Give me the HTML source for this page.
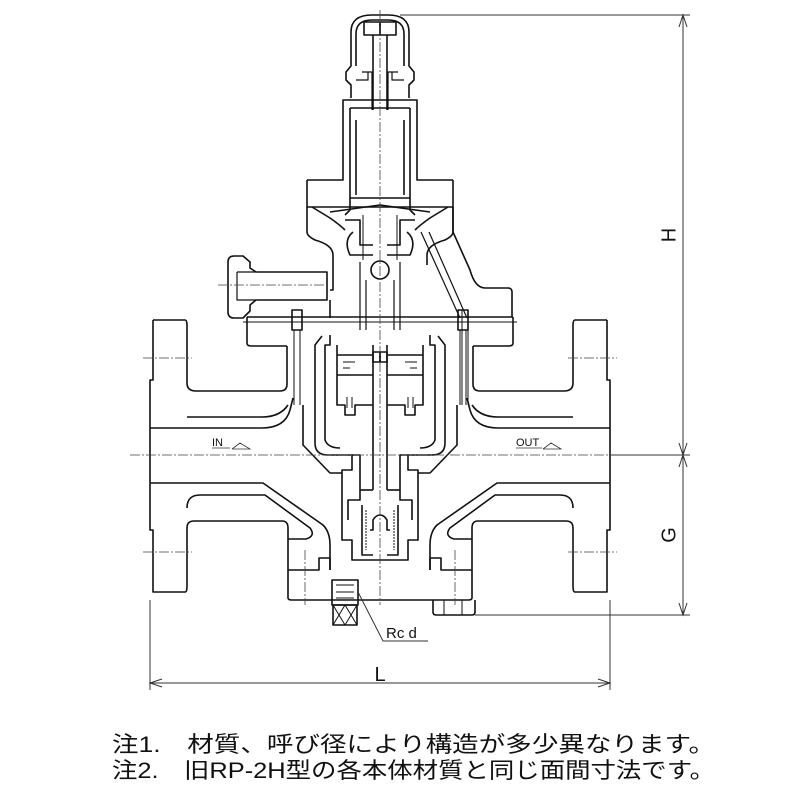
<!DOCTYPE html>
<html><head><meta charset="utf-8"><style>
html,body{margin:0;padding:0;background:#fff;}
svg{display:block;}
text{font-family:"Liberation Sans","Noto Sans CJK JP",sans-serif;fill:#111;}
</style></head><body>
<svg width="800" height="800" viewBox="0 0 800 800" xmlns="http://www.w3.org/2000/svg">
<defs>
<g id="half" fill="none" stroke="#111" stroke-width="1.6" stroke-linejoin="round">
  <path d="M153,320 H185 Q187,320 187,325 V383 Q187,391 196,391 H280 Q287,391 287,384 V346"/>
  <path d="M153,320 V380 H150 V530 H153 V592 H185 Q187,592 187,586 V528 Q187,521 194,521 H282 Q288,521 288,528 V540"/>
  <path d="M150,428 H262 Q285,428 290,410 L293,398"/>
  <path d="M187,417 H262 Q280,417 288,405"/>
  <path d="M303,405 V445 L330,473 H342"/>
  <path d="M150,483 H263 L323,525 Q330,532 330,545 V570"/>
  <path d="M187,508 Q187,495 200,495 H265 L310,528 Q316,536 306,539 H288"/>
  <path d="M247,317 V343 Q247,346 251,346 H287"/>
  <path d="M247,317 H380"/>
  <path d="M243,322 H380" stroke-width="1"/>
  <rect x="292" y="310" width="10" height="20"/>
  <path d="M294,330 V405 M300,330 V405" stroke-width="1"/>
  <path d="M322,336 L315,345 V443 Q315,455 328,455 H352 V470 H342 V540 H352 V560 H380"/>
  <path d="M330,335 V345 H325 V440 Q328,448 340,448"/>
  <path d="M352,455 H360 V500 H348 V520"/>
  <path d="M360,490 H373"/>
  <path d="M362,505 V555 H373"/>
  <path d="M366,510 V550" stroke-width="1" stroke-dasharray="2,1"/>
  <path d="M370,530 H373 V520 Q376,515 380,515"/>
  <path d="M337,345 V405 H345 V415 H355 V405 H373"/>
  <path d="M337,355 H373 M337,375 H373"/>
  <path d="M343,362 H355 M343,368 H350" stroke-width="1"/>
  <rect x="373" y="352" width="7" height="10"/>
  <path d="M347,397 V408 M352,397 V408" stroke-width="1"/>
  <path d="M288,540 V570 H319 V558 H330 V570 M288,570 V598 Q288,600 292,600 H380"/>
  <path d="M307,207 V232 Q307,236 315,240 Q333,245 333,255 V265"/>
  <path d="M307,180 V207 H380"/>
  <path d="M307,180 H343 V100 H380"/>
  <path d="M312,207 L330,218 Q340,225 345,230 M330,212 L380,205"/>
  <path d="M350,108 H380 M350,108 V198 H380 M356,120 V195" />
  <path d="M350,198 V210 L345,215" />
  <path d="M345,220 H360 V245 H373 M353,232 Q343,240 350,255 H373"/>
  <path d="M363,215 V260" stroke-width="1"/>
  <path d="M351,98 V85 L346,80 V72 L351,66 V32 Q351,15 372,15 H380"/>
  <path d="M356,66 V34 Q356,20 372,20 H380"/>
  <rect x="364" y="22" width="16" height="13"/>
  <path d="M362,72 H372 V110 M356,80 H368 V72" stroke-width="1.2"/>
  <path d="M373,35 V110" />
</g>
</defs>

<use href="#half"/>
<use href="#half" transform="translate(760,0) scale(-1,1)"/>

<g fill="none" stroke="#111" stroke-width="1.6" stroke-linejoin="round">
  <path d="M453,207 V232 L470,270 Q475,288 485,288 H508 Q512,288 512,292 V317"/>
  <path d="M421,232 L460,318 M429,232 L467,318" stroke-width="1.2"/>
  <path d="M333,265 V290 H330"/>
  <path d="M228,262 Q228,256 234,256 H243 L250,262 V268 L256,272 H327 V300 H256 L250,305 V311 L243,318 H234 Q228,318 228,312 Z"/>
  <path d="M237,272 H256 M237,272 V300 H256" stroke-width="1.2"/>
  <path d="M330,300 V318" />
  <circle cx="380" cy="270" r="9"/>
  <path d="M360,262 V330 M400,262 V330 M366,280 V330 M394,280 V330" stroke-width="1.2"/>
  <path d="M462,310 V405 M468,310 V405" stroke-width="1"/>
  <path d="M373,345 V490 M387,345 V490" />
  <rect x="332" y="580" width="26" height="25"/>
  <path d="M336,585 H354 M336,592 H354 M336,598 H354" stroke-width="1"/>
  <rect x="333" y="605" width="24" height="20"/>
  <path d="M333,605 L345,625 L357,605 M333,625 L345,605 L357,625" stroke-width="1"/>
  <path d="M433,600 V612 Q433,615 436,615 H472 Q475,615 475,612 V600"/>
  <path d="M444,600 V615 M462,600 V615" stroke-width="1"/>
</g>

<g stroke="#444" stroke-width="0.8" stroke-dasharray="10,2,2,2" fill="none">
  <path d="M130,455 H610"/>
  <path d="M380,10 V605"/>
  <path d="M143,358 H192 M143,552 H192 M568,358 H617 M568,552 H617"/>
  <path d="M218,285 H330"/>
  <path d="M305,550 V605 M455,550 V605"/>
</g>

<g stroke="#333" stroke-width="1" fill="none">
  <path d="M400,15 H690 M610,455 H690 M475,615 H690"/>
  <path d="M683,15 V615"/>
  <path d="M679,27 L683,15 L687,27 M679,443 L683,455 L687,443 M679,467 L683,455 L687,467 M679,603 L683,615 L687,603"/>
  <path d="M150,600 V690 M610,600 V690"/>
  <path d="M150,683 H610"/>
  <path d="M162,679 L150,683 L162,687 M598,679 L610,683 L598,687"/>
  <path d="M358,592 L383,641 H428"/>
  <path d="M212,448 H230 M232,449 L240,443 L250,449 H232 M516,448 H542 M543,449 L551,443 L561,449 H543" stroke-width="0.8"/>
</g>
<text x="670" y="235" font-size="20" transform="rotate(-90 670 235)" text-anchor="middle" dominant-baseline="middle">H</text>
<text x="670" y="535" font-size="20" transform="rotate(-90 670 535)" text-anchor="middle" dominant-baseline="middle">G</text>
<text x="380" y="681" font-size="20" text-anchor="middle">L</text>
<text x="386" y="638" font-size="15">Rc d</text>
<text x="212" y="446" font-size="11">IN</text>
<text x="516" y="446" font-size="11">OUT</text>

<text x="112" y="752" font-size="22" textLength="603" lengthAdjust="spacingAndGlyphs">注1.　材質、呼び径により構造が多少異なります。</text>
<text x="112" y="778" font-size="22" textLength="603" lengthAdjust="spacingAndGlyphs">注2.　旧RP-2H型の各本体材質と同じ面間寸法です。</text>
</svg>
</body></html>
